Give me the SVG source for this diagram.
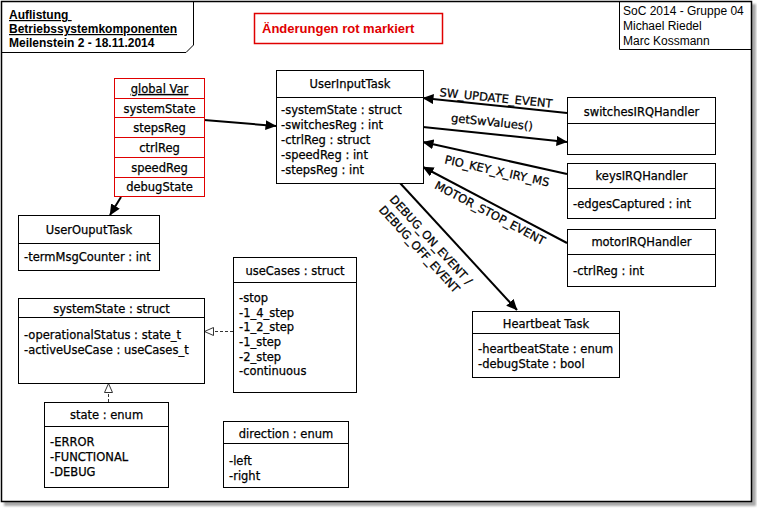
<svg xmlns="http://www.w3.org/2000/svg" width="757" height="508" viewBox="0 0 757 508">
  <defs>
    <filter id="soft" x="-2%" y="-2%" width="104%" height="104%">
      <feGaussianBlur stdDeviation="1.3"/>
    </filter>
    <marker id="arrow" viewBox="0 0 11 10" refX="10.5" refY="5" markerWidth="11" markerHeight="10" markerUnits="userSpaceOnUse" orient="auto">
      <path d="M0,0 L11,5 L0,10 z" fill="#000"/>
    </marker>
    <marker id="hollow" viewBox="0 0 10 9" refX="9.5" refY="4.5" markerWidth="10" markerHeight="9" markerUnits="userSpaceOnUse" orient="auto">
      <path d="M0.5,0.5 L9.5,4.5 L0.5,8.5 z" fill="#fff" stroke="#333" stroke-width="1"/>
    </marker>
    <style>
      .box { fill: #fff; stroke: #000; stroke-width: 1; }
      .redbox { fill: #fff; stroke: #e00000; stroke-width: 1; }
      .sep { stroke: #000; stroke-width: 1; }
      .redsep { stroke: #e00000; stroke-width: 1; }
      .t { font-family: "DejaVu Sans", "Liberation Sans", sans-serif; font-size: 11.5px; fill: #000; stroke: #000; stroke-width: 0.25px; }
      .c { text-anchor: middle; }
      .head { font-family: "Liberation Sans", Arial, sans-serif; font-size: 12px; font-weight: bold; fill: #000; }
      .info { font-family: "Liberation Sans", Arial, sans-serif; font-size: 12px; fill: #000; }
      .u { text-decoration: underline; }
      .edge { stroke: #000; stroke-width: 2; fill: none; marker-end: url(#arrow); }
      .dash { stroke: #333; stroke-width: 1; stroke-dasharray: 3 2; fill: none; marker-end: url(#hollow); }
    </style>
  </defs>

  <!-- sheet with drop shadow -->
  <rect x="4" y="4" width="752" height="502" fill="#a8a8a8" filter="url(#soft)"/>
  <rect x="1.5" y="1.5" width="750" height="500" fill="#fff" stroke="#000" stroke-width="1.5"/>

  <!-- title block -->
  <g id="title-block">
    <polyline points="1.5,52.5 186,52.5 193.5,45 193.5,1.5" fill="none" stroke="#000" stroke-width="1"/>
    <text class="head u" x="9" y="19">Auflistung&#160;</text>
    <text class="head u" x="9" y="33">Betriebssystemkomponenten</text>
    <text class="head" x="9" y="47">Meilenstein 2 - 18.11.2014</text>
  </g>

  <!-- author block -->
  <g id="author-block">
    <polyline points="619.5,1.5 619.5,49.5 751.5,49.5" fill="none" stroke="#000" stroke-width="1"/>
    <text class="info" x="623" y="15">SoC 2014 - Gruppe 04</text>
    <text class="info" x="623" y="30">Michael Riedel</text>
    <text class="info" x="623" y="45">Marc Kossmann</text>
  </g>

  <!-- change note -->
  <g id="change-note">
    <rect x="254.5" y="13.5" width="188" height="30" fill="#fff" stroke="#e00000" stroke-width="1.5"/>
    <text x="262" y="33" font-family="Liberation Sans, Arial, sans-serif" font-size="13" font-weight="bold" fill="#e00000">Änderungen rot markiert</text>
  </g>

  <!-- connectors -->
  <g id="connectors">
    <line class="edge" x1="204" y1="120" x2="276" y2="126"/>
    <line class="edge" x1="121" y1="197" x2="110" y2="215"/>
    <line class="edge" x1="567" y1="113" x2="423" y2="98"/>
    <line class="edge" x1="423" y1="127" x2="567" y2="142"/>
    <line class="edge" x1="567" y1="174" x2="423" y2="142"/>
    <line class="edge" x1="567" y1="243" x2="423" y2="167"/>
    <line class="edge" x1="400" y1="183" x2="517" y2="310"/>
    <line class="dash" x1="233" y1="331.5" x2="204.5" y2="331.5"/>
    <line class="dash" x1="108.5" y1="402" x2="108.5" y2="383.5"/>

    <g transform="translate(496,98) rotate(5.7)">
      <text class="t c" x="0" y="4">SW_UPDATE_EVENT</text>
    </g>
    <g transform="translate(492,122) rotate(6)">
      <text class="t c" x="0" y="4">getSwValues()</text>
    </g>
    <g transform="translate(497,171) rotate(12.5)">
      <text class="t c" x="0" y="4">PIO_KEY_X_IRY_MS</text>
    </g>
    <g transform="translate(490,213) rotate(27.8)">
      <text class="t c" x="0" y="4">MOTOR_STOP_EVENT</text>
    </g>
    <g transform="translate(431,240) rotate(47.6)">
      <text class="t c" x="0" y="4">DEBUG_ON_EVENT /</text>
      <text class="t c" x="-1" y="18.8">DEBUG_OFF_EVENT</text>
    </g>
  </g>

  <!-- global variables -->
  <g id="global-var">
    <rect class="redbox" x="114.5" y="78.5" width="90" height="118"/>
    <line class="redsep" x1="114.5" y1="98.5" x2="204.5" y2="98.5"/>
    <line class="redsep" x1="114.5" y1="117.5" x2="204.5" y2="117.5"/>
    <line class="redsep" x1="114.5" y1="137.5" x2="204.5" y2="137.5"/>
    <line class="redsep" x1="114.5" y1="157.5" x2="204.5" y2="157.5"/>
    <line class="redsep" x1="114.5" y1="177.5" x2="204.5" y2="177.5"/>
    <text class="t c u" x="159.5" y="93">global Var</text>
    <text class="t c" x="159.5" y="113">systemState</text>
    <text class="t c" x="159.5" y="132">stepsReg</text>
    <text class="t c" x="159.5" y="152">ctrlReg</text>
    <text class="t c" x="159.5" y="172">speedReg</text>
    <text class="t c" x="159.5" y="191">debugState</text>
  </g>

  <!-- UserInputTask -->
  <g id="user-input-task">
    <rect class="box" x="276.5" y="70.5" width="147" height="113"/>
    <line class="sep" x1="276.5" y1="97.5" x2="423.5" y2="97.5"/>
    <text class="t c" x="350" y="88">UserInputTask</text>
    <text class="t" x="281" y="114">-systemState : struct</text>
    <text class="t" x="281" y="129">-switchesReg : int</text>
    <text class="t" x="281" y="144">-ctrlReg : struct</text>
    <text class="t" x="281" y="159">-speedReg : int</text>
    <text class="t" x="281" y="174">-stepsReg : int</text>
  </g>

  <!-- switchesIRQHandler -->
  <g id="switches-irq-handler">
    <rect class="box" x="567.5" y="97.5" width="148" height="57"/>
    <line class="sep" x1="567.5" y1="123.5" x2="715.5" y2="123.5"/>
    <text class="t c" x="641.5" y="116">switchesIRQHandler</text>
  </g>

  <!-- keysIRQHandler -->
  <g id="keys-irq-handler">
    <rect class="box" x="567.5" y="163.5" width="148" height="55"/>
    <line class="sep" x1="567.5" y1="188.5" x2="715.5" y2="188.5"/>
    <text class="t c" x="641.5" y="180">keysIRQHandler</text>
    <text class="t" x="573" y="207.5">-edgesCaptured : int</text>
  </g>

  <!-- motorIRQHandler -->
  <g id="motor-irq-handler">
    <rect class="box" x="567.5" y="229.5" width="148" height="57"/>
    <line class="sep" x1="567.5" y1="254.5" x2="715.5" y2="254.5"/>
    <text class="t c" x="641.5" y="246">motorIRQHandler</text>
    <text class="t" x="573" y="275">-ctrlReg : int</text>
  </g>

  <!-- Heartbeat Task -->
  <g id="heartbeat-task">
    <rect class="box" x="472.5" y="311.5" width="147" height="66"/>
    <line class="sep" x1="472.5" y1="333.5" x2="619.5" y2="333.5"/>
    <text class="t c" x="546" y="327.5">Heartbeat Task</text>
    <text class="t" x="478" y="353">-heartbeatState : enum</text>
    <text class="t" x="478" y="368">-debugState : bool</text>
  </g>

  <!-- UserOuputTask -->
  <g id="user-output-task">
    <rect class="box" x="18.5" y="215.5" width="141" height="55"/>
    <line class="sep" x1="18.5" y1="243.5" x2="159.5" y2="243.5"/>
    <text class="t c" x="89" y="234">UserOuputTask</text>
    <text class="t" x="24" y="261">-termMsgCounter : int</text>
  </g>

  <!-- systemState : struct -->
  <g id="system-state">
    <rect class="box" x="18.5" y="298.5" width="186" height="85"/>
    <line class="sep" x1="18.5" y1="317.5" x2="204.5" y2="317.5"/>
    <text class="t c" x="111.5" y="313">systemState : struct</text>
    <text class="t" x="24" y="339">-operationalStatus : state_t</text>
    <text class="t" x="24" y="354">-activeUseCase : useCases_t</text>
  </g>

  <!-- useCases : struct -->
  <g id="use-cases">
    <rect class="box" x="233.5" y="257.5" width="123" height="135"/>
    <line class="sep" x1="233.5" y1="282.5" x2="356.5" y2="282.5"/>
    <text class="t c" x="295" y="275">useCases : struct</text>
    <text class="t" x="239" y="302">-stop</text>
    <text class="t" x="239" y="316.5">-1_4_step</text>
    <text class="t" x="239" y="331">-1_2_step</text>
    <text class="t" x="239" y="346">-1_step</text>
    <text class="t" x="239" y="360.5">-2_step</text>
    <text class="t" x="239" y="375">-continuous</text>
  </g>

  <!-- state : enum -->
  <g id="state-enum">
    <rect class="box" x="44.5" y="402.5" width="124" height="85"/>
    <line class="sep" x1="44.5" y1="426.5" x2="168.5" y2="426.5"/>
    <text class="t c" x="106.5" y="419">state : enum</text>
    <text class="t" x="50" y="446">-ERROR</text>
    <text class="t" x="50" y="461">-FUNCTIONAL</text>
    <text class="t" x="50" y="476">-DEBUG</text>
  </g>

  <!-- direction : enum -->
  <g id="direction-enum">
    <rect class="box" x="223.5" y="421.5" width="125" height="66"/>
    <line class="sep" x1="223.5" y1="443.5" x2="348.5" y2="443.5"/>
    <text class="t c" x="286" y="437.5">direction : enum</text>
    <text class="t" x="229" y="465">-left</text>
    <text class="t" x="229" y="480">-right</text>
  </g>
</svg>
